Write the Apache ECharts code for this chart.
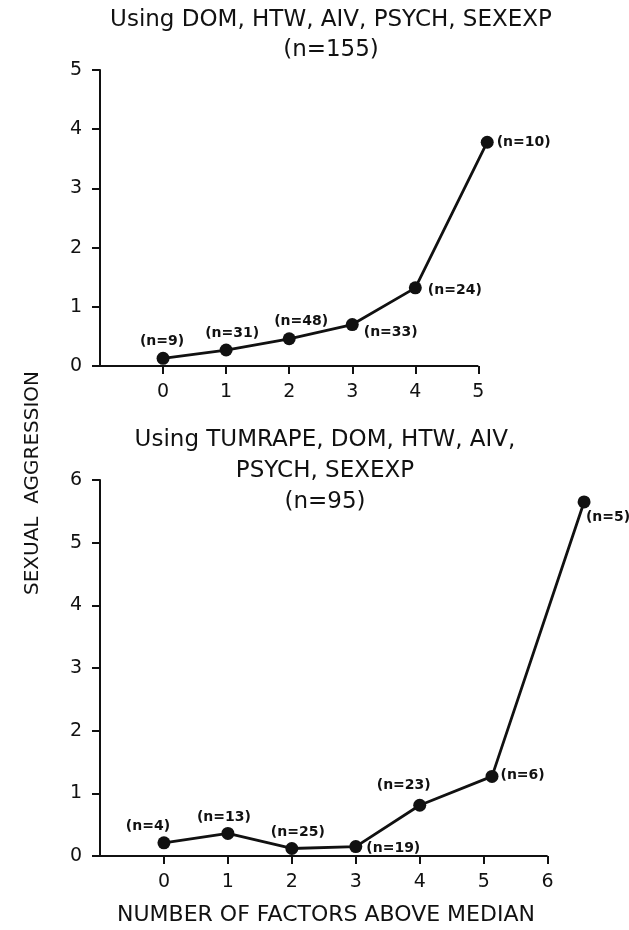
<!DOCTYPE html>
<html>
<head>
<meta charset="utf-8">
<script src="https://cdn.jsdelivr.net/npm/echarts@6/dist/echarts.min.js"></script>
<style>
	html, body { margin: 0; padding: 0; background: #fff; }
	#chart { width: 629px; height: 930px; }
</style>
</head>
<body>
<div id="chart"></div>
<script>
	// upper panel: DOM, HTW, AIV, PSYCH, SEXEXP
	var topFactors = [0, 1, 2, 3, 4, 5.14];
	var topAggression = [0.13, 0.27, 0.46, 0.70, 1.32, 3.78];
	var topCounts = [9, 31, 48, 33, 24, 10];

	// lower panel: TUMRAPE added
	var botFactors = [0, 1, 2, 3, 4, 5.13, 6.57];
	var botAggression = [0.21, 0.36, 0.12, 0.15, 0.81, 1.27, 5.65];
	var botCounts = [4, 13, 25, 19, 23, 6, 5];

	var topTicks = [0, 1, 2, 3, 4, 5];
	var botTicks = [0, 1, 2, 3, 4, 5, 6];

	// where each (n=..) note sits next to its dot
	var topNotes = [
		['top', -1, 0, 3], ['top', 6, 0, 3], ['top', 12, -1, 3],
		['right', 0, 8, 5], ['right', 0, 3, 6], ['right', 0, 0, 3]
	];
	var botNotes = [
		['top', -16, 0, 3], ['top', -4, 0, 3], ['top', 6, 0, 3],
		['right', 0, 2, 4], ['top', -16, -3, 3], ['right', 0, -1, 2],
		['bottom', 24, 0, 2]
	];

	var ink = '#111';
	var face = 'DejaVu Sans';

	function points(xs, ys, ns, notes) {
		var out = [];
		for (var i = 0; i < xs.length; i++) {
			out.push({
				value: [xs[i], ys[i]],
				n: ns[i],
				label: {
					position: notes[i][0],
					offset: [notes[i][1], notes[i][2]],
					distance: notes[i][3]
				}
			});
		}
		return out;
	}

	// the axis line is hidden and drawn as a markLine, so it can stop at the last tick
	// while the last dot still sits a bit beyond it
	function xAxisFor(idx, max, ticks, extra) {
		var ax = {
			type: 'value',
			gridIndex: idx,
			min: -1,
			max: max,
			interval: 1,
			splitLine: { show: false },
			axisLine: { show: false, onZero: false },
			axisTick: { customValues: ticks, length: 8, lineStyle: { color: ink, width: 2 } },
			axisLabel: { customValues: ticks, margin: 17, color: ink, fontFamily: face, fontSize: 19 }
		};
		for (var k in extra) ax[k] = extra[k];
		return ax;
	}

	function yAxisFor(idx, max) {
		return {
			type: 'value',
			gridIndex: idx,
			min: 0,
			max: max,
			interval: 1,
			splitLine: { show: false },
			axisLine: { onZero: false, lineStyle: { color: ink, width: 2 } },
			axisTick: { length: 8, lineStyle: { color: ink, width: 2 } },
			axisLabel: { margin: 18, color: ink, fontFamily: face, fontSize: 19 }
		};
	}

	function lineFor(idx, data, lastTick) {
		return {
			type: 'line',
			xAxisIndex: idx,
			yAxisIndex: idx,
			clip: false,
			symbol: 'circle',
			symbolSize: 13,
			data: data,
			lineStyle: { color: ink, width: 2.8 },
			itemStyle: { color: ink },
			label: {
				show: true,
				color: ink,
				fontFamily: face,
				fontSize: 14,
				fontWeight: 'bold',
				formatter: function (p) { return '(n=' + p.data.n + ')'; }
			},
			markLine: {
				silent: true,
				symbol: ['none', 'none'],
				label: { show: false },
				lineStyle: { color: ink, width: 2, type: 'solid' },
				data: [[{ coord: [-1, 0] }, { coord: [lastTick, 0] }]]
			}
		};
	}

	var chart = echarts.init(document.getElementById('chart'), null, { renderer: 'canvas' });

	chart.setOption({
		animation: false,
		backgroundColor: '#fff',
		title: [
			{
				text: 'Using DOM, HTW, AIV, PSYCH, SEXEXP\n(n=155)',
				left: 326,
				top: 0,
				textAlign: 'center',
				textStyle: { color: ink, fontFamily: face, fontSize: 23, fontWeight: 'normal', lineHeight: 30 }
			},
			{
				text: 'Using TUMRAPE, DOM, HTW, AIV,\nPSYCH, SEXEXP\n(n=95)',
				left: 320,
				top: 420,
				textAlign: 'center',
				textStyle: { color: ink, fontFamily: face, fontSize: 23, fontWeight: 'normal', lineHeight: 31 }
			}
		],
		grid: [
			{ left: 100, top: 70, width: 391, height: 296 },
			{ left: 100, top: 480, width: 486, height: 376 }
		],
		xAxis: [
			xAxisFor(0, 5.2, topTicks, {}),
			xAxisFor(1, 6.6, botTicks, {
				name: 'NUMBER OF FACTORS ABOVE MEDIAN',
				nameLocation: 'middle',
				nameGap: 48,
				nameTextStyle: { color: ink, fontFamily: face, fontSize: 22, padding: [0, 34, 0, 0] }
			})
		],
		yAxis: [yAxisFor(0, 5), yAxisFor(1, 6)],
		graphic: [
			{
				type: 'text',
				x: 33,
				y: 483,
				rotation: Math.PI / 2,
				style: {
					text: 'SEXUAL  AGGRESSION',
					fill: ink,
					font: '20px "DejaVu Sans"',
					textAlign: 'center',
					textVerticalAlign: 'middle'
				}
			}
		],
		series: [
			lineFor(0, points(topFactors, topAggression, topCounts, topNotes), 5),
			lineFor(1, points(botFactors, botAggression, botCounts, botNotes), 6)
		]
	});
</script>
</body>
</html>
